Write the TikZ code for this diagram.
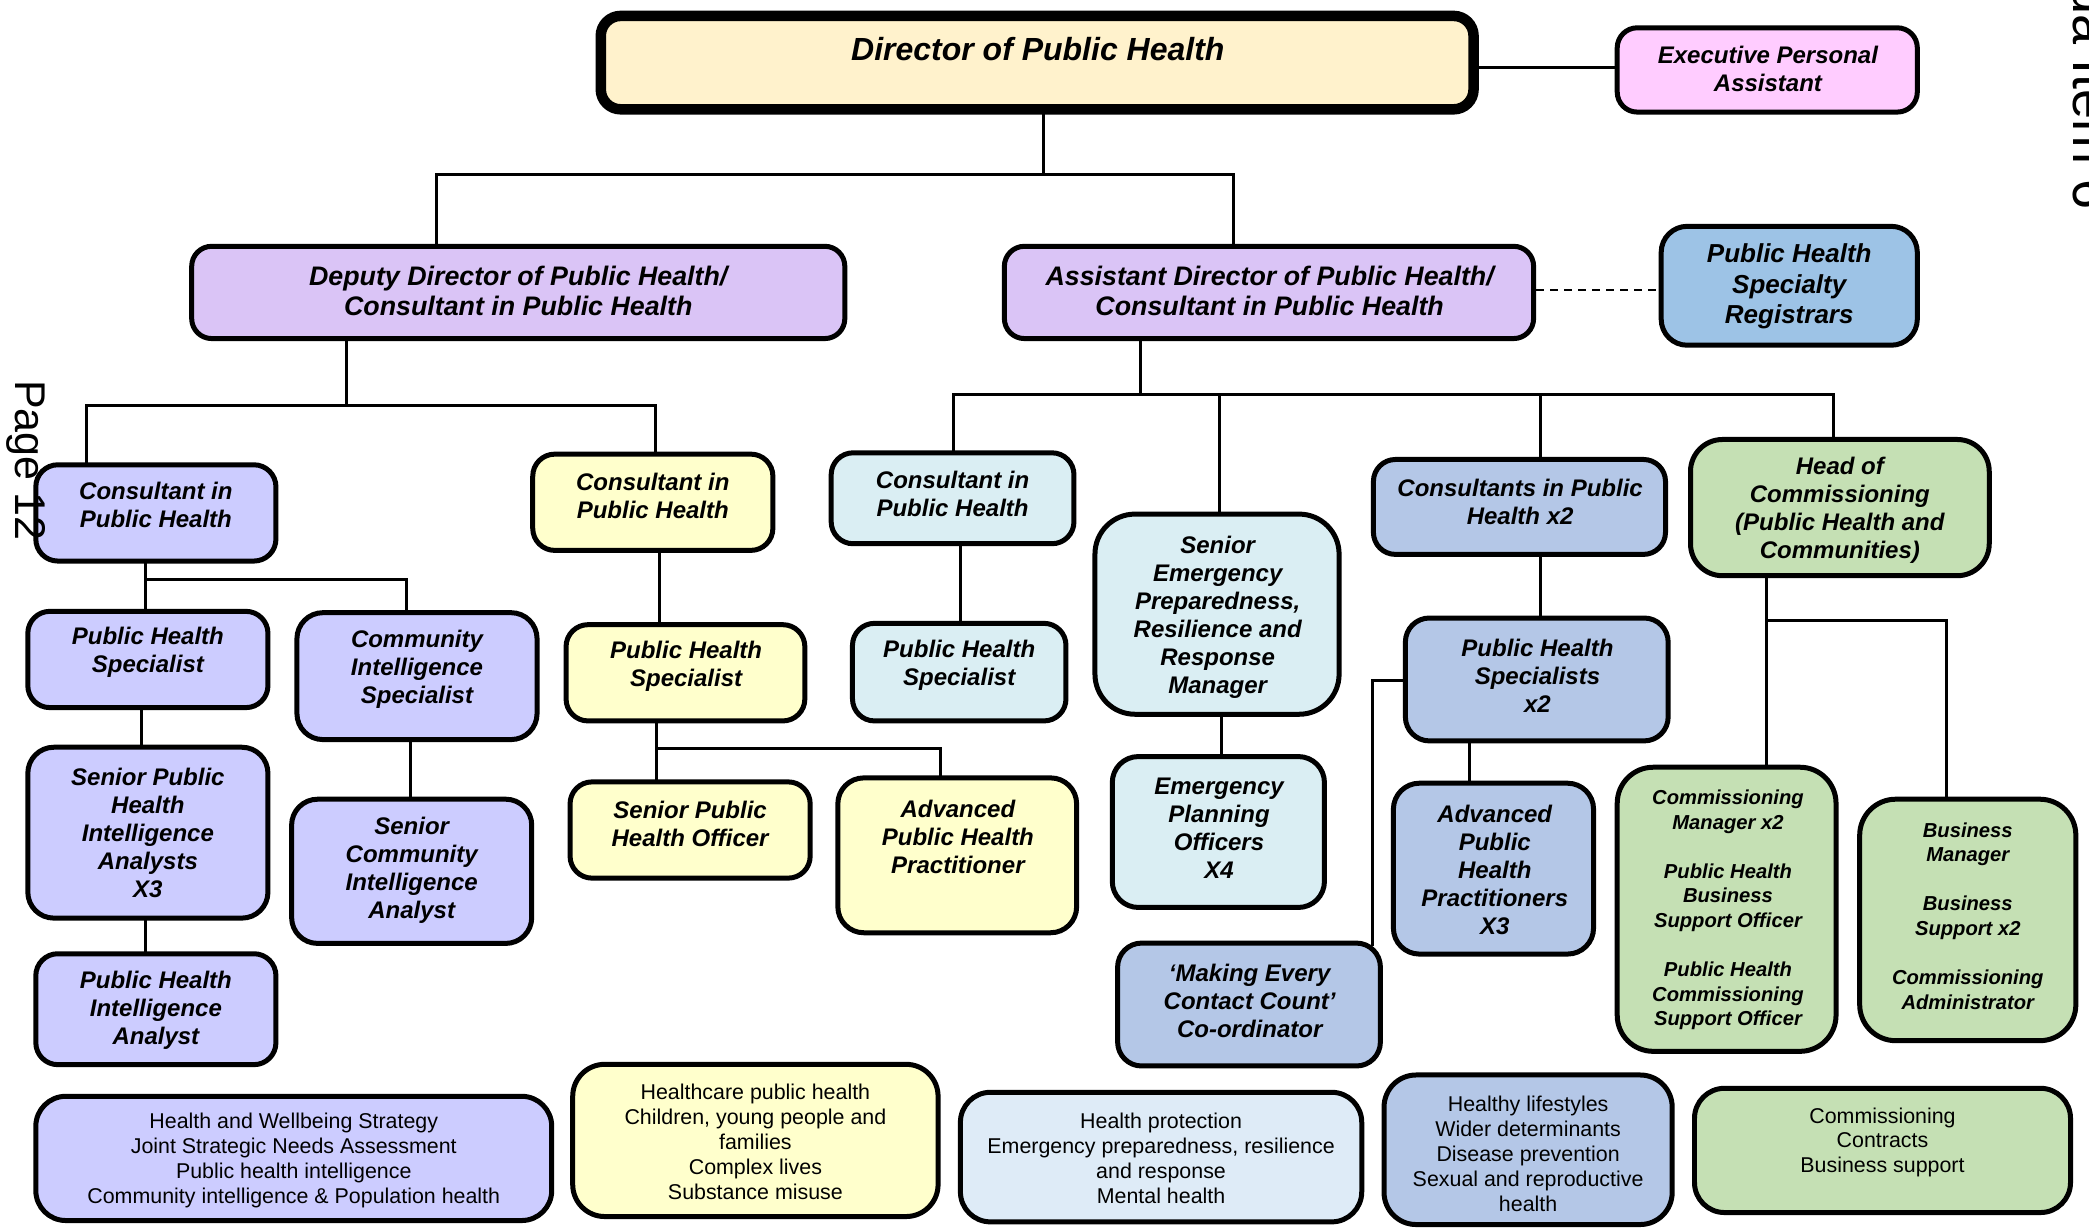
\documentclass[tikz,border=0pt]{standalone}
\usepackage{fontspec}
\setmainfont{Liberation Sans}
\definecolor{dirc}{RGB}{255,242,204}
\definecolor{pinkc}{RGB}{255,204,255}
\definecolor{lavc}{RGB}{218,196,246}
\definecolor{regc}{RGB}{157,195,230}
\definecolor{peric}{RGB}{204,204,255}
\definecolor{yelc}{RGB}{255,255,204}
\definecolor{cyanc}{RGB}{218,238,243}
\definecolor{steelc}{RGB}{180,199,231}
\definecolor{greenc}{RGB}{197,224,180}
\definecolor{palec}{RGB}{222,235,247}
\newcommand\obox[7]{%
  \node[box,#1,line width=#7,minimum width={(#5-#3)*0.6662pt-#7},minimum height={(#6-#4)*0.6662pt-#7}] (#2) at ({(#3+#5)/2},{(#4+#6)/2}) {};}
\begin{document}
\begin{tikzpicture}[x=0.6662pt,y=-0.6662pt,
  box/.style={draw=black,rounded corners=11pt,inner sep=0pt},
  conn/.style={line width=1.5pt,line cap=rect},
  lbl/.style={align=center,inner sep=0pt,font=\fontsize{12}{14}\selectfont\bfseries\itshape},
  big/.style={align=center,inner sep=0pt,font=\fontsize{13.4}{15.2}\selectfont\bfseries\itshape},
  small/.style={align=center,inner sep=0pt,font=\fontsize{10.1}{12.3}\selectfont\bfseries\itshape},
  body/.style={align=center,inner sep=0pt,font=\fontsize{10.7}{12.4}\selectfont}]
\useasboundingbox (0,0) rectangle (1568,922);
\fill[white] (0,0) rectangle (1568,922);

% ---------- boxes ----------
\obox{fill=dirc,rounded corners=10pt}{dir}{447}{8}{1110}{86}{5.25pt}
\obox{fill=pinkc,rounded corners=10pt}{epa}{1212}{19}{1441}{86}{2.5pt}
\obox{fill=lavc,rounded corners=10pt}{ddp}{142}{183}{636}{256}{2.5pt}
\obox{fill=lavc,rounded corners=10pt}{adp}{752}{183}{1153}{256}{2.5pt}
\obox{fill=regc,rounded corners=13pt}{phsr}{1245}{168}{1441}{261}{2.5pt}
\obox{fill=peric}{c1}{25}{347}{209}{423}{2.5pt}
\obox{fill=yelc}{c2}{398}{339}{582}{415}{2.5pt}
\obox{fill=cyanc}{c3}{622}{338}{808}{410}{2.5pt}
\obox{fill=cyanc,rounded corners=20pt}{sep}{820}{384}{1007}{538}{2.5pt}
\obox{fill=steelc}{c4}{1029}{343}{1252}{418}{2.5pt}
\obox{fill=greenc,rounded corners=16pt}{hoc}{1267}{328}{1495}{434}{2.5pt}
\obox{fill=peric}{phs1}{19}{457}{203}{533}{2.5pt}
\obox{fill=peric,rounded corners=13pt}{cis}{221}{458}{405}{557}{2.5pt}
\obox{fill=peric,rounded corners=13pt}{sphia}{19}{559}{203}{691}{2.5pt}
\obox{fill=peric,rounded corners=13pt}{scia}{217}{598}{401}{710}{2.5pt}
\obox{fill=peric}{phia}{25}{714}{209}{801}{2.5pt}
\obox{fill=yelc}{phs2}{423}{467}{606}{543}{2.5pt}
\obox{fill=yelc}{spho}{426}{585}{610}{661}{2.5pt}
\obox{fill=yelc,rounded corners=13pt}{aphp}{627}{582}{810}{702}{2.5pt}
\obox{fill=cyanc}{phs3}{638}{466}{802}{543}{2.5pt}
\obox{fill=cyanc,rounded corners=13pt}{epo}{833}{566}{996}{683}{2.5pt}
\obox{fill=steelc,rounded corners=12pt}{phsx2}{1053}{462}{1254}{558}{2.5pt}
\obox{fill=steelc,rounded corners=13pt}{aphpx3}{1044}{586}{1198}{718}{2.5pt}
\obox{fill=steelc,rounded corners=12pt}{mecc}{837}{706}{1038}{802}{2.5pt}
\obox{fill=greenc,rounded corners=18pt}{cm}{1212}{574}{1380}{791}{2.5pt}
\obox{fill=greenc,rounded corners=18pt}{bm}{1394}{598}{1560}{783}{2.5pt}
\obox{fill=peric,rounded corners=15pt}{b1}{25}{821}{416}{918}{2.5pt}
\obox{fill=yelc,rounded corners=16pt}{b2}{428}{797}{706}{915}{2.5pt}
\obox{fill=palec,rounded corners=15pt}{b3}{719}{818}{1024}{919}{2.5pt}
\obox{fill=steelc,rounded corners=16pt}{b4}{1037}{805}{1257}{921}{2.5pt}
\obox{fill=greenc,rounded corners=15pt}{b5}{1270}{815}{1556}{912}{2.5pt}

% ---------- connectors ----------
\coordinate (j0) at (783,131);
\coordinate (j0l) at (328,131);
\coordinate (j0r) at (926,131);
\draw[conn] (dir.south -| j0) -- (j0);
\draw[conn] (ddp.north -| j0l) -- (j0l) -- (j0r) -- (adp.north -| j0r);

\coordinate (je) at (1160,51);
\draw[conn] (dir.east |- je) -- (epa.west |- je);

\coordinate (jd) at (1200,217.5);
\draw[line width=1.2pt,dash pattern=on 4pt off 3pt] (adp.east |- jd) -- (phsr.west |- jd);

\coordinate (j1) at (260,304);
\coordinate (j1l) at (65,304);
\coordinate (j1r) at (492,304);
\draw[conn] (ddp.south -| j1) -- (j1);
\draw[conn] (c1.north -| j1l) -- (j1l) -- (j1r) -- (c2.north -| j1r);

\coordinate (j2) at (856,296);
\coordinate (j2a) at (716,296);
\coordinate (j2b) at (915,296);
\coordinate (j2c) at (1156,296);
\coordinate (j2d) at (1376,296);
\draw[conn] (adp.south -| j2) -- (j2);
\draw[conn] (c3.north -| j2a) -- (j2a) -- (j2d) -- (hoc.north -| j2d);
\draw[conn] (j2b) -- (sep.north -| j2b);
\draw[conn] (j2c) -- (c4.north -| j2c);

\coordinate (j3) at (109,435);
\coordinate (j3r) at (305,435);
\draw[conn] (c1.south -| j3) -- (phs1.north -| j3);
\draw[conn] (j3) -- (j3r) -- (cis.north -| j3r);

\coordinate (k4) at (106,545);
\draw[conn] (phs1.south -| k4) -- (sphia.north -| k4);
\coordinate (k5) at (308,580);
\draw[conn] (cis.south -| k5) -- (scia.north -| k5);
\coordinate (k6) at (109,700);
\draw[conn] (sphia.south -| k6) -- (phia.north -| k6);
\coordinate (k7) at (495,440);
\draw[conn] (c2.south -| k7) -- (phs2.north -| k7);

\coordinate (j8) at (493,562);
\coordinate (j8r) at (706,562);
\draw[conn] (phs2.south -| j8) -- (spho.north -| j8);
\draw[conn] (j8) -- (j8r) -- (aphp.north -| j8r);

\coordinate (k9) at (721,440);
\draw[conn] (c3.south -| k9) -- (phs3.north -| k9);
\coordinate (k10) at (917,550);
\draw[conn] (sep.south -| k10) -- (epo.north -| k10);
\coordinate (k11) at (1156,440);
\draw[conn] (c4.south -| k11) -- (phsx2.north -| k11);
\coordinate (k12) at (1103,570);
\draw[conn] (phsx2.south -| k12) -- (aphpx3.north -| k12);

\coordinate (j13) at (1030,511);
\path (mecc.north -| j13) ++(0,3) coordinate (j13b);
\draw[conn] (phsx2.west |- j13) -- (j13) -- (j13b);

\coordinate (j14) at (1326,466);
\coordinate (j14r) at (1461,466);
\draw[conn] (hoc.south -| j14) -- (cm.north -| j14);
\draw[conn] (j14) -- (j14r) -- (bm.north -| j14r);

% ---------- texts ----------
\node[lbl,font=\fontsize{16}{19}\selectfont\bfseries\itshape] (dir-t) at (779,37) {Director of Public Health};
\node[lbl] (epa-t) at (1327,51.5) {Executive Personal\\Assistant};
\node[big] (ddp-t) at (389,218.5) {Deputy Director of Public Health/\\Consultant in Public Health};
\node[big] (adp-t) at (953,218.5) {Assistant Director of Public Health/\\Consultant in Public Health};
\node[lbl,font=\fontsize{13}{15.3}\selectfont\bfseries\itshape] (phsr-t) at (1343,215) {Public Health\\Specialty\\Registrars};
\node[lbl] (c1-t) at (117,379) {Consultant in\\Public Health};
\node[lbl] (c2-t) at (490,372) {Consultant in\\Public Health};
\node[lbl] (c3-t) at (715,370.5) {Consultant in\\Public Health};
\node[lbl] (sep-t) at (914,463) {Senior\\Emergency\\Preparedness,\\Resilience and\\Response\\Manager};
\node[lbl] (c4-t) at (1141,376.5) {Consultants in Public\\Health x2};
\node[lbl] (hoc-t) at (1381,383) {Head of\\Commissioning\\(Public Health and\\Communities)};
\node[lbl] (phs1-t) at (111,489.5) {Public Health\\Specialist};
\node[lbl] (cis-t) at (313,502) {Community\\Intelligence\\Specialist};
\node[lbl] (sphia-t) at (111,625) {Senior Public\\Health\\Intelligence\\Analysts\\X3};
\node[lbl] (scia-t) at (309,653.5) {Senior\\Community\\Intelligence\\Analyst};
\node[lbl] (phia-t) at (117,758.5) {Public Health\\Intelligence\\Analyst};
\node[lbl] (phs2-t) at (515,500) {Public Health\\Specialist};
\node[lbl] (spho-t) at (518,618.5) {Senior Public\\Health Officer};
\node[lbl] (aphp-t) at (719,628) {Advanced\\Public Health\\Practitioner};
\node[lbl] (phs3-t) at (720,499) {Public Health\\Specialist};
\node[lbl] (epo-t) at (915,622) {Emergency\\Planning\\Officers\\X4};
\node[lbl] (phsx2-t) at (1154,507) {Public Health\\Specialists\\x2};
\node[lbl] (aphpx3-t) at (1122,653) {Advanced\\Public\\Health\\Practitioners\\X3};
\node[lbl] (mecc-t) at (938,751) {‘Making Every\\Contact Count’\\Co-ordinator};
\node[small] (cm-t) at (1297,683) {Commissioning\\Manager x2\\[12.3pt]Public Health\\Business\\Support Officer\\[12.3pt]Public Health\\Commissioning\\Support Officer};
\node[small] (bm-t) at (1477,687.5) {Business\\Manager\\[12.3pt]Business\\Support x2\\[12.3pt]Commissioning\\Administrator};

\node[body] (b1-t) at (220.5,871) {Health and Wellbeing Strategy\\Joint Strategic Needs Assessment\\Public health intelligence\\Community intelligence \& Population health};
\node[body] (b2-t) at (567,857) {Healthcare public health\\Children, young people and\\families\\Complex lives\\Substance misuse};
\node[body] (b3-t) at (871.5,869.5) {Health protection\\Emergency preparedness, resilience\\and response\\Mental health};
\node[body] (b4-t) at (1147,866) {Healthy lifestyles\\Wider determinants\\Disease prevention\\Sexual and reproductive\\health};
\node[body] (b5-t) at (1413,857.5) {Commissioning\\Contracts\\Business support};

% ---------- page furniture ----------
\node[rotate=-90,anchor=base west,inner sep=0pt,font=\fontsize{21.5}{25}\selectfont] (pg) at (11.3,285) {Page 12};
\node[rotate=-90,anchor=base east,inner sep=0pt,font=\fontsize{27}{32}\selectfont] (item) at (1556,157.6) {Agenda Item 6};
\end{tikzpicture}
\end{document}
